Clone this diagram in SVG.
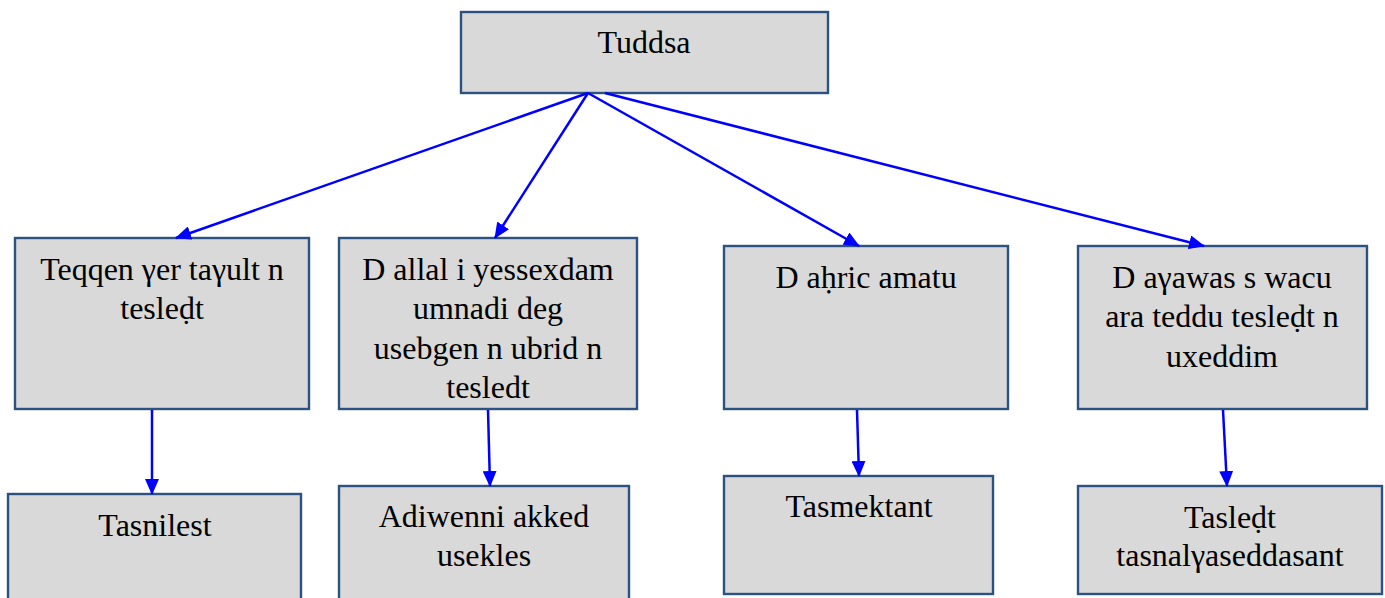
<svg xmlns="http://www.w3.org/2000/svg" width="1385" height="598" viewBox="0 0 1385 598">
<style>
.box{fill:#d9d9d9;stroke:#2c5282;stroke-width:2.4}
.t{font-family:"Liberation Serif","Times New Roman",serif;font-size:32px;fill:#000;text-anchor:middle}
.c{stroke:#0000ff;stroke-width:2.5;fill:none;marker-end:url(#ah)}
</style>
<defs>
<marker id="ah" markerWidth="16" markerHeight="14" refX="15" refY="7" orient="auto" markerUnits="userSpaceOnUse">
<path d="M0,0 L16,7 L0,14 Z" fill="#0000ff"/>
</marker>
</defs>
<rect width="1385" height="598" fill="#fff"/>
<g id="n0"><rect class="box" x="461" y="12" width="367" height="81"/><text class="t" x="644" y="53">Tuddsa</text></g>
<g id="n1"><rect class="box" x="15" y="238" width="294" height="171"/><text class="t" x="162" y="280">Teqqen γer taγult n</text><text class="t" x="162" y="319">tesleḍt</text></g>
<g id="n2"><rect class="box" x="339" y="238" width="298" height="171"/><text class="t" x="488" y="280">D allal i yessexdam</text><text class="t" x="488" y="319">umnadi deg</text><text class="t" x="488" y="359">usebgen n ubrid n</text><text class="t" x="488" y="398">tesledt</text></g>
<g id="n3"><rect class="box" x="724" y="246" width="284" height="163"/><text class="t" x="866" y="288">D aḥric amatu</text></g>
<g id="n4"><rect class="box" x="1078" y="246" width="289" height="163"/><text class="t" x="1222" y="288">D aγawas s wacu</text><text class="t" x="1222" y="327">ara teddu tesleḍt n</text><text class="t" x="1222" y="367">uxeddim</text></g>
<g id="n5"><rect class="box" x="8" y="494" width="293" height="110"/><text class="t" x="155" y="536">Tasnilest</text></g>
<g id="n6"><rect class="box" x="339" y="486" width="290" height="118"/><text class="t" x="484" y="527">Adiwenni akked</text><text class="t" x="484" y="566">usekles</text></g>
<g id="n7"><rect class="box" x="724" y="476" width="269" height="118"/><text class="t" x="859" y="517">Tasmektant</text></g>
<g id="n8"><rect class="box" x="1078" y="486" width="304" height="108"/><text class="t" x="1230" y="528">Tasleḍt</text><text class="t" x="1230" y="566">tasnalγaseddasant</text></g>
<g id="connectors">
<line class="c" x1="588" y1="93" x2="176" y2="238"/>
<line class="c" x1="588" y1="93" x2="495" y2="238"/>
<line class="c" x1="588" y1="93" x2="859" y2="246"/>
<line class="c" x1="605" y1="93" x2="1204" y2="246"/>
<line class="c" x1="152" y1="410" x2="152" y2="494"/>
<line class="c" x1="488" y1="410" x2="490" y2="486"/>
<line class="c" x1="857" y1="410" x2="859" y2="476"/>
<line class="c" x1="1223" y1="410" x2="1227" y2="486"/>
</g>
</svg>
